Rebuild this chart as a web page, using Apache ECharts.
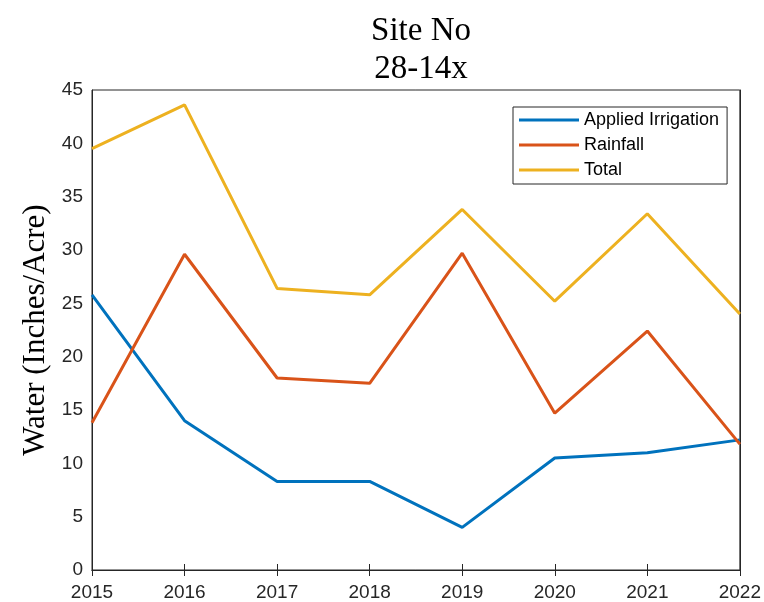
<!DOCTYPE html>
<html><head><meta charset="utf-8">
<script src="https://cdn.jsdelivr.net/npm/echarts@6/dist/echarts.min.js"></script>
<style>html,body{margin:0;padding:0;background:#fff}#c{width:764px;height:602px}</style>
</head><body><div id="c"></div>
<script>
var years = ['2015','2016','2017','2018','2019','2020','2021','2022'];
var irrigation = [25.8, 14.0, 8.3, 8.3, 4.0, 10.5, 11.0, 12.2];
var rainfall = [13.8, 29.6, 18.0, 17.5, 29.7, 14.7, 22.4, 11.8];
var total = [39.5, 43.6, 26.4, 25.8, 33.8, 25.2, 33.4, 24.0];
var yTicks = [0,5,10,15,20,25,30,35,40,45];

var chart = echarts.init(document.getElementById('c'), null, {renderer:'canvas'});
var axColor = '#262626';
var tickFont = {color: axColor, fontSize: 19, fontFamily: 'Liberation Sans, Arial, sans-serif'};
function mk(name, data, color){
  return {name:name, type:'line', data:data, symbol:'none', lineStyle:{width:3, color:color}, itemStyle:{color:color}, xAxisIndex:0, yAxisIndex:0, animation:false};
}
chart.setOption({
  animation:false,
  title:{text:'Site No\n28-14x', left:416, textAlign:'center', top:7,
    textStyle:{fontFamily:'Liberation Serif, DejaVu Serif, serif', fontWeight:'normal', fontSize:33, color:'#000', lineHeight:38}},
  grid:{left:92, right:23, top:90, bottom:32, show:true, borderColor:axColor, borderWidth:1, backgroundColor:'#fff'},
  legend:{orient:'vertical', left:513, top:107, data:['Applied Irrigation','Rainfall','Total'],
    icon:'rect', itemWidth:60, itemHeight:3, itemGap:5, padding:[3,8,4,6],
    borderColor:'#262626', borderWidth:1, backgroundColor:'#fff', borderRadius:0,
    textStyle:{fontSize:18, fontFamily:'Liberation Sans, Arial, sans-serif', color:'#000', lineHeight:20}},
  xAxis:[
    {type:'category', data:years, boundaryGap:false, position:'bottom',
      axisLine:{show:true, lineStyle:{color:axColor}}, axisTick:{inside:true, length:6, lineStyle:{color:axColor}},
      axisLabel:Object.assign({margin:13, showMinLabel:true, showMaxLabel:true, interval:0}, tickFont), splitLine:{show:false}},
    {type:'category', data:years, boundaryGap:false, position:'top',
      axisLine:{show:true, lineStyle:{color:axColor}}, axisTick:{inside:true, length:6, lineStyle:{color:axColor}},
      axisLabel:{show:false}, splitLine:{show:false}}
  ],
  yAxis:[
    {type:'value', min:0, max:45, interval:5, position:'left',
      name:'Water (Inches/Acre)', nameLocation:'middle', nameGap:38, nameRotate:90,
      nameTextStyle:{fontFamily:'Liberation Serif, DejaVu Serif, serif', fontSize:31, color:'#000'},
      axisLine:{show:true, lineStyle:{color:axColor}}, axisTick:{inside:true, length:6, lineStyle:{color:axColor}},
      axisLabel:Object.assign({margin:9, formatter:function(v){return yTicks.indexOf(v)>=0? String(v):'';}}, tickFont), splitLine:{show:false}},
    {type:'value', min:0, max:45, interval:5, position:'right',
      axisLine:{show:true, lineStyle:{color:axColor}}, axisTick:{inside:true, length:6, lineStyle:{color:axColor}},
      axisLabel:{show:false}, splitLine:{show:false}}
  ],
  series:[
    mk('Applied Irrigation', irrigation, '#0072BD'),
    mk('Rainfall', rainfall, '#D95319'),
    mk('Total', total, '#EDB120')
  ]
});
</script></body></html>
